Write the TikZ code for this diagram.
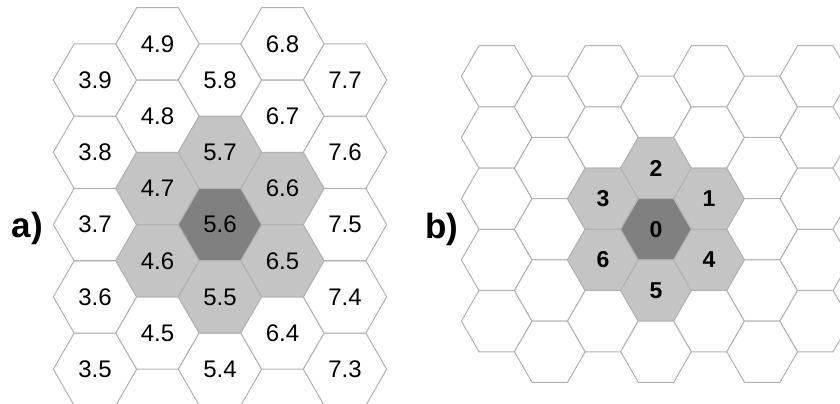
\documentclass[tikz,border=0pt]{standalone}
\usepackage{fontspec}
\setmainfont{Liberation Sans}
\usetikzlibrary{shapes.geometric}

\definecolor{cellline}{gray}{0.70}
\definecolor{nearfill}{gray}{0.77}
\definecolor{homefill}{gray}{0.50}

\begin{document}
\begin{tikzpicture}[x=0.5pt, y=-0.5pt,
  every label/.style={font=\fontsize{11.5}{13}\selectfont\bfseries, inner sep=0pt}]

% Styles
\tikzset{
  hexa/.style={draw=cellline, line width=0.5pt, fill=white, regular polygon, regular polygon sides=6,
    minimum size=41.7pt, inner sep=0pt, font=\fontsize{12}{13}\selectfont},
  hexb/.style={hexa, minimum size=35.4pt},
  near/.style={fill=nearfill},
  home/.style={fill=homefill},
  panel/.style={font=\fontsize{17.5}{20}\selectfont\bfseries, anchor=base},
  % shaded cells, a)
  ca56/.style=home, ca57/.style=near, ca55/.style=near,
  ca47/.style=near, ca46/.style=near, ca66/.style=near, ca65/.style=near,
  % shaded cells, b)
  cb42/.style={home, label={center:0}},
  cb41/.style={near, label={center:2}}, cb43/.style={near, label={center:5}},
  cb32/.style={near, label={center:3}}, cb33/.style={near, label={center:6}},
  cb52/.style={near, label={center:1}}, cb53/.style={near, label={center:4}}
}

\useasboundingbox (0,0) rectangle (840,403);
\clip (0,0) rectangle (840,403);

% Grid a)
\foreach \c/\lo in {3/5, 4/5, 5/4, 6/4, 7/3} {
  \pgfmathtruncatemacro\hi{\lo+4}
  \foreach \d in {\lo,...,\hi}
    \node[hexa, ca\c\d/.try] (a\c\d) at ({95+(\c-3)*62.5}, {80+(9-\d)*72.3-(\c-3)*36.15}) {\c.\d};
}

% Grid b)
\foreach \k in {1,...,7} {
  \pgfmathsetmacro\yo{mod(\k,2)==0 ? 106.9 : 76.3}
  \foreach \j in {0,...,4}
    \node[hexb, cb\k\j/.try] (b\k\j) at ({496.7+(\k-1)*53.1}, {\yo+\j*61.2}) {};
}

% Labels
\node[panel] (taga) at (27.5, 237) {a)};
\node[panel] (tagb) at (441.7, 238) {b)};

\end{tikzpicture}
\end{document}
